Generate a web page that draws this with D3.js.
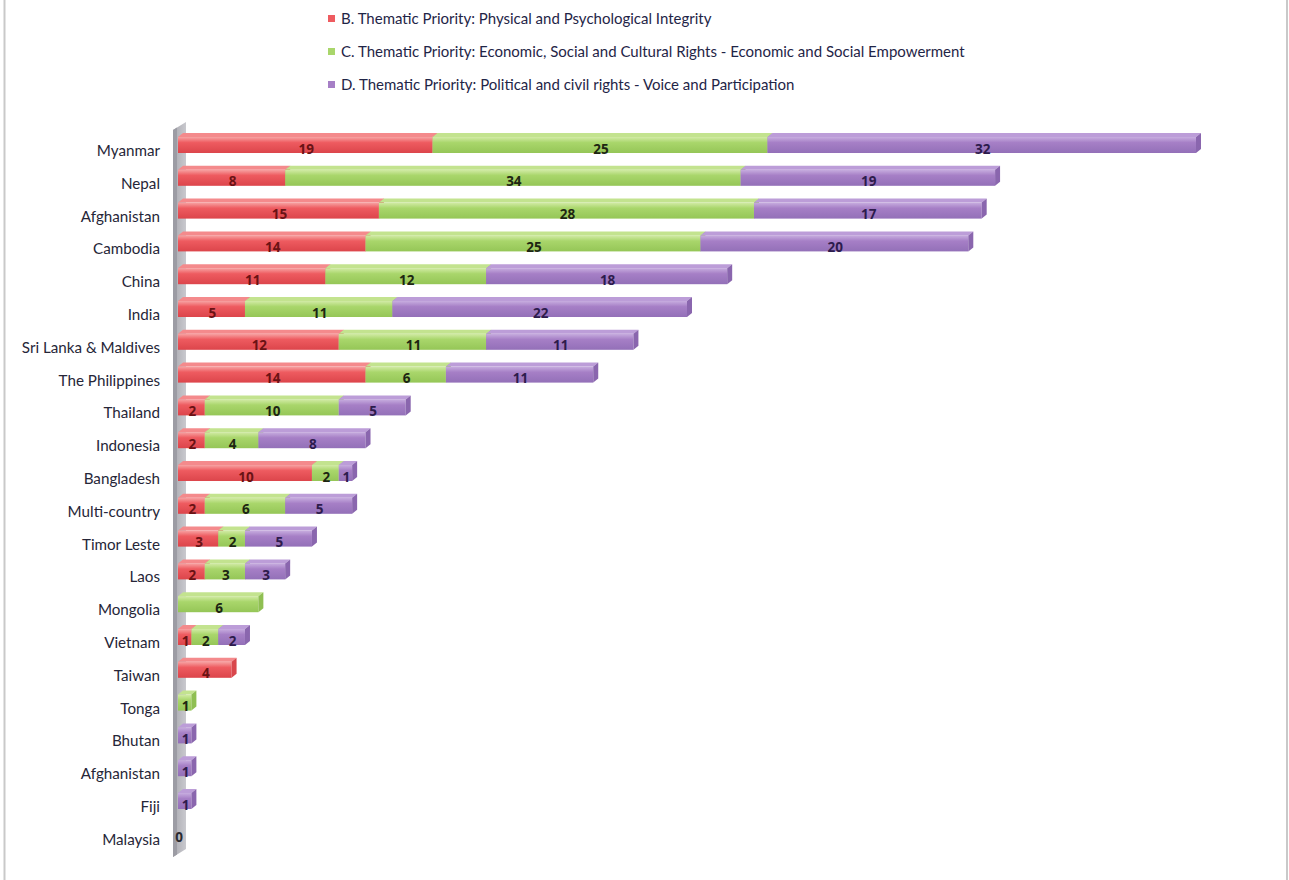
<!DOCTYPE html>
<html>
<head>
<meta charset="utf-8">
<script src="https://cdn.jsdelivr.net/npm/d3@7/dist/d3.min.js"></script>
<style>
  html, body { margin: 0; padding: 0; background: #fff; }
  svg { display: block; }
</style>
</head>
<body>
<svg id="chart" width="1289" height="880"></svg>
<script>
// Projects per country, split by thematic priority
const countries = [
  "Myanmar", "Nepal", "Afghanistan", "Cambodia", "China", "India",
  "Sri Lanka & Maldives", "The Philippines", "Thailand", "Indonesia",
  "Bangladesh", "Multi-country", "Timor Leste", "Laos", "Mongolia",
  "Vietnam", "Taiwan", "Tonga", "Bhutan", "Afghanistan", "Fiji", "Malaysia"
];
const physicalIntegrity = [19, 8, 15, 14, 11, 5, 12, 14, 2, 2, 10, 2, 3, 2, 0, 1, 4, 0, 0, 0, 0, 0];
const economicSocial    = [25, 34, 28, 25, 12, 11, 11, 6, 10, 4, 2, 6, 2, 3, 6, 2, 0, 1, 0, 0, 0, 0];
const politicalCivil    = [32, 19, 17, 20, 18, 22, 11, 11, 5, 8, 1, 5, 5, 3, 0, 2, 0, 0, 1, 1, 1, 0];

const seriesNames = [
  "B. Thematic Priority: Physical and Psychological Integrity",
  "C. Thematic Priority: Economic, Social and Cultural Rights - Economic and Social Empowerment",
  "D. Thematic Priority: Political and civil rights - Voice and Participation"
];
const seriesValues = [physicalIntegrity, economicSocial, politicalCivil];

const palette = [
  { front: "#ee5b60", light: "#f7a3a3", dark: "#dc454b", top: "#f48a8c", side: "#d9474c", text: "#6a1214" },
  { front: "#a9d66b", light: "#d2eba6", dark: "#95c657", top: "#c3e38f", side: "#8fbf52", text: "#1d2612" },
  { front: "#a67fc6", light: "#c7addf", dark: "#9370b8", top: "#bc9dd8", side: "#8a66ae", text: "#2d1b4c" }
];

const svg = d3.select("#chart");
const W = 1289, H = 880;

// frame
svg.append("line").attr("x1", 4.5).attr("x2", 4.5).attr("y1", 0).attr("y2", H)
  .attr("stroke", "#c9c9c9").attr("stroke-width", 2);
svg.append("line").attr("x1", 1287).attr("x2", 1287).attr("y1", 0).attr("y2", H)
  .attr("stroke", "#c9c9c9").attr("stroke-width", 2);

// gradients
const defs = svg.append("defs");
palette.forEach((p, i) => {
  const g = defs.append("linearGradient").attr("id", "g" + i)
    .attr("x1", 0).attr("y1", 0).attr("x2", 0).attr("y2", 1);
  g.append("stop").attr("offset", "0%").attr("stop-color", p.light);
  g.append("stop").attr("offset", "35%").attr("stop-color", p.front);
  g.append("stop").attr("offset", "100%").attr("stop-color", p.dark);
});
const wallGrad = defs.append("linearGradient").attr("id", "wall")
  .attr("x1", 0).attr("y1", 0).attr("x2", 1).attr("y2", 0);
wallGrad.append("stop").attr("offset", "0%").attr("stop-color", "#a9a9b0");
wallGrad.append("stop").attr("offset", "100%").attr("stop-color", "#c9c9ce");

// scales
const maxTotal = d3.max(countries.map((c, i) => seriesValues.reduce((s, v) => s + v[i], 0)));
const x = d3.scaleLinear().domain([0, maxTotal]).range([178, 1196]);
const y = d3.scaleBand().domain(d3.range(countries.length))
  .range([126.6, 848.2]).paddingInner(0.39).paddingOuter(0.195);

const depthX = 5, depthY = 4;

// side wall of the category axis
const wallTop = 130, wallBot = 857;
svg.append("path")
  .attr("d", `M173,${wallTop} L186,${wallTop - 8} L186,${wallBot - 8} L173,${wallBot} Z`)
  .attr("fill", "url(#wall)");
svg.append("path")
  .attr("d", `M173,${wallTop} L177,${wallTop - 2.5} L177,${wallBot - 2.5} L173,${wallBot} Z`)
  .attr("fill", "#9c9ca4");

// category labels
svg.append("g").selectAll("text").data(countries).join("text")
  .attr("x", 160)
  .attr("y", (d, i) => y(i) + y.bandwidth() / 2 + 13)
  .attr("text-anchor", "end")
  .attr("font-family", "Lato, 'Open Sans', sans-serif")
  .attr("font-size", 15.2)
  .attr("fill", "#262638")
  .text(d => d);

// stacked 3D bars
const rows = countries.map((c, i) => {
  let acc = 0;
  return seriesValues.map((vals, s) => {
    const seg = { row: i, series: s, v: vals[i], x0: acc, x1: acc + vals[i] };
    acc += vals[i];
    return seg;
  });
});

const barsG = svg.append("g");
rows.forEach(segs => {
  segs.filter(d => d.v > 0).forEach(d => {
    const p = palette[d.series];
    const top = y(d.row), bot = top + y.bandwidth();
    const xa = x(d.x0), xb = x(d.x1);
    const g = barsG.append("g");
    // front face
    g.append("rect").attr("x", xa).attr("y", top + depthY)
      .attr("width", xb - xa).attr("height", bot - top - depthY)
      .attr("fill", `url(#g${d.series})`);
    // top face
    g.append("path")
      .attr("d", `M${xa},${top + depthY} L${xa + depthX},${top} L${xb + depthX},${top} L${xb},${top + depthY} Z`)
      .attr("fill", p.top);
    // end face
    g.append("path")
      .attr("d", `M${xb},${top + depthY} L${xb + depthX},${top} L${xb + depthX},${bot - depthY} L${xb},${bot} Z`)
      .attr("fill", p.side);
  });
});

// value labels
const labelG = svg.append("g")
  .attr("font-family", "'Open Sans', Lato, sans-serif")
  .attr("font-weight", "bold")
  .attr("font-size", 13.5)
  .attr("text-anchor", "middle");
rows.forEach(segs => {
  segs.filter(d => d.v > 0).forEach(d => {
    labelG.append("text")
      .attr("x", (x(d.x0) + x(d.x1)) / 2 + 1)
      .attr("y", y(d.row) + y.bandwidth() / 2 + 10.5)
      .attr("fill", palette[d.series].text)
      .text(d.v);
  });
  const total = d3.sum(segs, d => d.v);
  if (total === 0) {
    labelG.append("text")
      .attr("x", x(0) + 1)
      .attr("y", y(segs[0].row) + y.bandwidth() / 2 + 10.5)
      .attr("fill", "#2a2a30")
      .text(0);
  }
});

// legend
const legend = svg.append("g")
  .attr("font-family", "Lato, 'Open Sans', sans-serif")
  .attr("font-size", 15);
seriesNames.forEach((name, i) => {
  const ly = 19 + i * 33;
  legend.append("rect").attr("x", 328).attr("y", ly - 4).attr("width", 7).attr("height", 7)
    .attr("fill", palette[i].front);
  legend.append("text").attr("x", 341).attr("y", ly + 5)
    .attr("fill", "#1f2547").text(name);
});
</script>
</body>
</html>
